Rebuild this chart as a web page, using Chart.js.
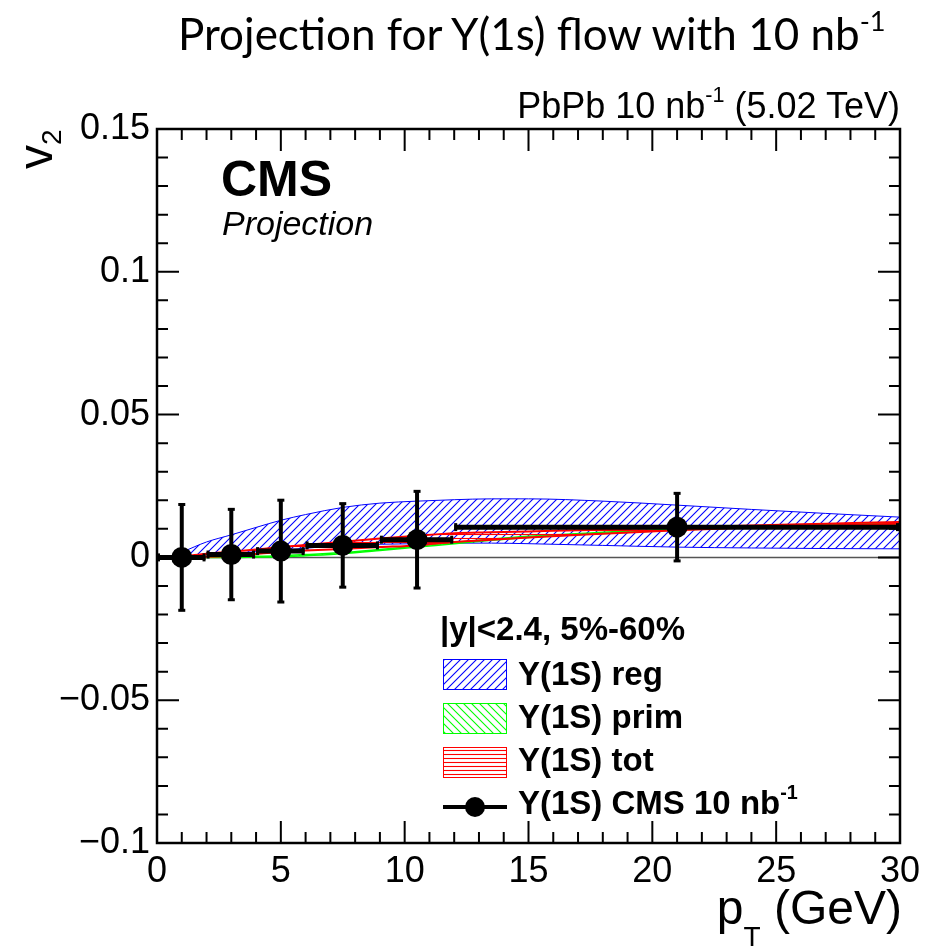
<!DOCTYPE html>
<html>
<head>
<meta charset="utf-8">
<title>Projection for Y(1s) flow</title>
<script src="https://cdn.jsdelivr.net/npm/chart.js@4.4.0/dist/chart.umd.min.js"></script>
<style>
    body { margin: 0; background: #fff; }
    #wrap { position: relative; width: 936px; height: 947px; overflow: hidden; }
    #chart { position: absolute; left: 0; top: 0; }
    .txt { position: absolute; white-space: nowrap; line-height: 1; color: #000;
           font-family: 'Liberation Sans', Arial, Helvetica, sans-serif; }
    .sup { position: relative; font-size: 0.6em; top: -0.75em; }
    .leg { font-size: 33px; font-weight: bold; }
</style>
</head>
<body>
<div id="wrap">
    <canvas id="chart" width="936" height="947"></canvas>

    <div class="txt" id="title" style="font-family: Lato, 'Open Sans', sans-serif; font-size: 44px; left: 178px; top: 11px;">Projection for Y(1s) flow with 10 nb<span class="sup" style="font-size:0.62em; top:-0.7em">-1</span></div>
    <div class="txt" style="font-size: 36px; right: 36px; top: 88px;">PbPb 10 nb<span class="sup">-1</span> (5.02 TeV)</div>
    <div class="txt" style="font-size: 50px; font-weight: bold; left: 221px; top: 154px;">CMS</div>
    <div class="txt" style="font-size: 34px; font-style: italic; left: 222px; top: 206px;">Projection</div>
    <div class="txt" style="font-size: 48px; left: 12px; top: 169px; transform-origin: 0 0; transform: rotate(-90deg);">v<span style="position:relative; font-size:28px; top:9px;">2</span></div>
    <div class="txt" style="font-size: 48px; right: 34px; top: 884px;">p<span style="position:relative; font-size:28px; top:22px;">T</span> (GeV)</div>

    <div class="txt leg" style="left: 440px; top: 612px;">|y|&lt;2.4, 5%-60%</div>
    <div class="txt leg" style="left: 518px; top: 657px;">Y(1S) reg</div>
    <div class="txt leg" style="left: 518px; top: 700px;">Y(1S) prim</div>
    <div class="txt leg" style="left: 518px; top: 743px;">Y(1S) tot</div>
    <div class="txt leg" style="left: 518px; top: 786px;">Y(1S) CMS 10 nb<span class="sup">-1</span></div>
</div>

<script>
// Axis ticks
const xTickValues = [0, 5, 10, 15, 20, 25, 30];
const xTickLabels = ['0', '5', '10', '15', '20', '25', '30'];
const yTickValues = [-0.1, -0.05, 0, 0.05, 0.1, 0.15];
const yTickLabels = ['\u22120.1', '\u22120.05', '0', '0.05', '0.1', '0.15'];

// Projected CMS points (pT bins)
const ptCenters = [1, 3, 5, 7.5, 10.5, 21];
const ptLow = [0, 2, 4, 6, 9, 12];
const ptHigh = [2, 4, 6, 9, 12, 30];
const v2Values = [0, 0.001, 0.0022, 0.0042, 0.0062, 0.0106];
const v2Errors = [0.0187, 0.016, 0.018, 0.0148, 0.0171, 0.012];

// Model bands, sampled along pT
const bandPt = [0.5, 1, 2, 3, 4, 5, 6, 7.5, 9, 10.5, 12, 13.5, 15, 18, 21, 24, 27, 30];
const regLow = [0, 0.0003, 0.001, 0.0015, 0.002, 0.0025, 0.0032, 0.0042, 0.0046, 0.0048, 0.005, 0.005, 0.0048, 0.0042, 0.0036, 0.0033, 0.0031, 0.003];
const regHigh = [0, 0.0018, 0.0054, 0.0079, 0.0105, 0.013, 0.015, 0.0175, 0.019, 0.0197, 0.0202, 0.0205, 0.0205, 0.0197, 0.0183, 0.0168, 0.0154, 0.0141];
const primLow = [0, 0, 0, 0, 0.0001, 0.0002, 0.0006, 0.0013, 0.0024, 0.0036, 0.0048, 0.006, 0.007, 0.0084, 0.0096, 0.0105, 0.0111, 0.0116];
const primHigh = [0, 0, 0.0002, 0.0003, 0.0004, 0.0006, 0.001, 0.0017, 0.0028, 0.004, 0.0052, 0.0064, 0.0074, 0.0088, 0.01, 0.0109, 0.0115, 0.012];
const totLow = [0, 0, 0.0002, 0.0006, 0.0012, 0.0019, 0.0024, 0.003, 0.0036, 0.0042, 0.0054, 0.0062, 0.007, 0.0083, 0.0095, 0.0105, 0.0112, 0.0118];
const totHigh = [0, 0.0003, 0.0013, 0.002, 0.0028, 0.0036, 0.0043, 0.0055, 0.0066, 0.0076, 0.0085, 0.0088, 0.0091, 0.0097, 0.0105, 0.0112, 0.0118, 0.0124];

const BLUE = 'rgb(0, 0, 255)';
const GREEN = 'rgb(0, 255, 0)';
const RED = 'rgb(255, 0, 0)';

const ctx = document.getElementById('chart').getContext('2d');

// Hatch fill patterns (ROOT style)
function hatch(color, dir, size) {
    const c = document.createElement('canvas');
    c.width = size;
    c.height = size;
    const g = c.getContext('2d');
    g.fillStyle = 'rgba(255, 255, 255, 0)';
    g.fillRect(0, 0, size, size);
    g.strokeStyle = color;
    g.lineWidth = 1.1;
    g.beginPath();
    if (dir === '/') {
        g.moveTo(0, size); g.lineTo(size, 0);
        g.moveTo(-2, 2); g.lineTo(2, -2);
        g.moveTo(size - 2, size + 2); g.lineTo(size + 2, size - 2);
    } else if (dir === '\\') {
        g.moveTo(0, 0); g.lineTo(size, size);
        g.moveTo(-2, size - 2); g.lineTo(2, size + 2);
        g.moveTo(size - 2, -2); g.lineTo(size + 2, 2);
    } else {
        g.moveTo(0, size / 2 + 0.5); g.lineTo(size, size / 2 + 0.5);
    }
    g.stroke();
    return ctx.createPattern(c, 'repeat');
}

const regHatch = hatch(BLUE, '/', 8);
const primHatch = hatch(GREEN, '\\', 8);
const totHatch = hatch(RED, '-', 4);

const toXY = (xs, ys) => xs.map((x, i) => ({ x: x, y: ys[i] }));

function bandLine(data, color, width, order, fill) {
    return {
        type: 'line',
        data: data,
        borderColor: color,
        borderWidth: width,
        backgroundColor: fill || 'transparent',
        fill: fill ? '-1' : false,
        pointRadius: 0,
        cubicInterpolationMode: 'monotone',
        order: order
    };
}

// Frame with inward ticks on all sides, zero line, error bars, legend symbols
const rootFrame = {
    id: 'rootFrame',
    beforeDatasetsDraw(chart) {
        const { ctx, chartArea: a, scales: { y } } = chart;
        const y0 = Math.round(y.getPixelForValue(0)) + 0.5;
        ctx.save();
        ctx.strokeStyle = '#555';
        ctx.lineWidth = 1.5;
        ctx.beginPath();
        ctx.moveTo(a.left, y0);
        ctx.lineTo(a.right, y0);
        ctx.stroke();
        ctx.restore();
    },
    afterDatasetsDraw(chart) {
        const { ctx, scales: { x, y } } = chart;
        ctx.save();
        ctx.strokeStyle = '#000';
        ctx.fillStyle = '#000';
        ptCenters.forEach((pt, i) => {
            const px = x.getPixelForValue(pt);
            const py = y.getPixelForValue(v2Values[i]);
            const xl = x.getPixelForValue(ptLow[i]);
            const xh = x.getPixelForValue(ptHigh[i]);
            const yt = y.getPixelForValue(v2Values[i] + v2Errors[i]);
            const yb = y.getPixelForValue(v2Values[i] - v2Errors[i]);
            ctx.lineWidth = 5;
            ctx.beginPath();
            ctx.moveTo(xl, py); ctx.lineTo(xh - 1, py);
            ctx.stroke();
            ctx.lineWidth = 4;
            ctx.beginPath();
            ctx.moveTo(px, yt); ctx.lineTo(px, yb);
            ctx.stroke();
            // end caps
            ctx.fillRect(xl, py - 4, 3, 8);
            ctx.fillRect(xh - 4, py - 4, 3, 8);
            ctx.fillRect(px - 3.5, yt - 1, 7, 3);
            ctx.fillRect(px - 3.5, yb - 2, 7, 3);
        });
        ctx.restore();
    },
    afterDraw(chart) {
        const { ctx, chartArea: a, scales: { x, y } } = chart;
        ctx.save();
        ctx.strokeStyle = '#000';
        ctx.lineWidth = 2;
        ctx.beginPath();
        for (let v = 0; v <= 30; v += 1) {
            const px = x.getPixelForValue(v);
            const len = v % 5 === 0 ? 22 : 11;
            ctx.moveTo(px, a.bottom); ctx.lineTo(px, a.bottom - len);
            ctx.moveTo(px, a.top); ctx.lineTo(px, a.top + len);
        }
        for (let k = -10; k <= 15; k += 1) {
            const py = y.getPixelForValue(k / 100);
            const len = k % 5 === 0 ? 22 : 11;
            ctx.moveTo(a.left, py); ctx.lineTo(a.left + len, py);
            ctx.moveTo(a.right, py); ctx.lineTo(a.right - len, py);
        }
        ctx.stroke();
        ctx.lineWidth = 2.5;
        ctx.strokeRect(a.left, a.top, a.right - a.left, a.bottom - a.top);

        // legend symbols
        const boxes = [[regHatch, BLUE, 659], [primHatch, GREEN, 703], [totHatch, RED, 747]];
        boxes.forEach(([pat, col, top]) => {
            ctx.fillStyle = pat;
            ctx.fillRect(443, top, 64, 30);
            ctx.strokeStyle = col;
            ctx.lineWidth = 1;
            ctx.strokeRect(443.5, top + 0.5, 63, 30);
        });
        ctx.strokeStyle = '#000';
        ctx.fillStyle = '#000';
        ctx.lineWidth = 4;
        ctx.beginPath();
        ctx.moveTo(443, 807); ctx.lineTo(507, 807);
        ctx.stroke();
        ctx.beginPath();
        ctx.arc(475, 807, 10, 0, Math.PI * 2);
        ctx.fill();
        ctx.restore();
    }
};

const tickFont = { family: "'Liberation Sans', Arial, sans-serif", size: 36 };

new Chart(ctx, {
    type: 'scatter',
    data: {
        datasets: [
            {
                type: 'scatter',
                data: toXY(ptCenters, v2Values),
                pointRadius: 10.5,
                pointBackgroundColor: '#000',
                pointBorderColor: '#000',
                pointBorderWidth: 0,
                order: 0
            },
            bandLine(toXY(bandPt, totLow), RED, 2, 1),
            bandLine(toXY(bandPt, totHigh), RED, 2, 1, totHatch),
            bandLine(toXY(bandPt, primLow), GREEN, 1.5, 2),
            bandLine(toXY(bandPt, primHigh), GREEN, 1.5, 2, primHatch),
            bandLine(toXY(bandPt, regLow), BLUE, 1, 3),
            bandLine(toXY(bandPt, regHigh), BLUE, 1, 3, regHatch)
        ]
    },
    options: {
        responsive: false,
        animation: false,
        devicePixelRatio: 1,
        layout: { padding: { top: 129, right: 36, bottom: 0, left: 0 } },
        plugins: { legend: { display: false }, tooltip: { enabled: false } },
        scales: {
            x: {
                type: 'linear',
                min: 0,
                max: 30,
                grid: { display: false, drawTicks: false },
                border: { display: false },
                afterBuildTicks: s => { s.ticks = xTickValues.map(v => ({ value: v })); },
                afterFit: s => { s.height = 104; },
                ticks: {
                    autoSkip: false,
                    maxRotation: 0,
                    minRotation: 0,
                    padding: 7,
                    color: '#000',
                    font: tickFont,
                    callback: (v, i) => xTickLabels[i]
                }
            },
            y: {
                type: 'linear',
                min: -0.1,
                max: 0.15,
                grid: { display: false, drawTicks: false },
                border: { display: false },
                afterBuildTicks: s => { s.ticks = yTickValues.map(v => ({ value: v })); },
                afterFit: s => { s.width = 157; },
                ticks: {
                    autoSkip: false,
                    padding: 7,
                    color: '#000',
                    font: tickFont,
                    callback: (v, i) => yTickLabels[i]
                }
            }
        }
    },
    plugins: [rootFrame]
});
</script>
</body>
</html>
